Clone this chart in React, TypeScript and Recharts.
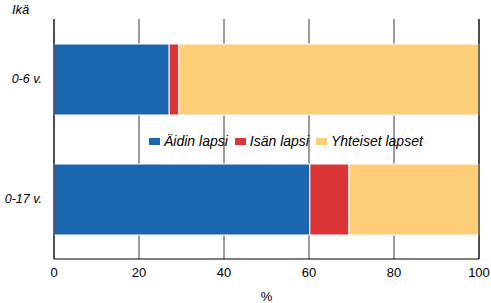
import { BarChart, Bar, XAxis, YAxis, CartesianGrid, Legend, ReferenceLine } from 'recharts';

const categories = ['0-6 v.', '0-17 v.'];
const aidinLapsi = [27.1, 60.2];
const isanLapsi = [2.3, 9.2];
const yhteisetLapset = [70.6, 30.6];
const xTicks = [0, 20, 40, 60, 80, 100];

const seriesInfo = [
  { key: 'aidin', name: 'Äidin lapsi', color: '#1a67b0' },
  { key: 'isan', name: 'Isän lapsi', color: '#dc3535' },
  { key: 'yhteiset', name: 'Yhteiset lapset', color: '#fdce78' },
];

const data = categories.map((c, i) => ({
  name: c,
  aidin: aidinLapsi[i],
  isan: isanLapsi[i],
  yhteiset: yhteisetLapset[i],
}));

const font = '"Liberation Sans", Arial, sans-serif';

function YTick(props: any) {
  const { x, y, payload } = props;
  return (
    <text x={x} y={y} dy={4} textAnchor="end" fontFamily={font} fontSize={12.5} fontStyle="italic" fill="#000">
      {payload.value}
    </text>
  );
}

function LegendBox() {
  return (
    <div style={{ display: 'flex', alignItems: 'center', fontFamily: font, fontSize: 14, fontStyle: 'italic', color: '#000', whiteSpace: 'nowrap' }}>
      {seriesInfo.map((s) => (
        <div key={s.key} style={{ display: 'flex', alignItems: 'center', marginRight: 7 }}>
          <span style={{ display: 'inline-block', width: 11, height: 7, background: s.color, marginRight: 4 }} />
          <span>{s.name}</span>
        </div>
      ))}
    </div>
  );
}

export default function App() {
  return (
    <div style={{ position: 'absolute', left: 0, top: 0, width: 491, height: 303, background: '#fff' }}>
      <div style={{ position: 'absolute', left: 12, top: 2, fontFamily: font, fontSize: 13, fontStyle: 'italic' }}>Ikä</div>
      <BarChart width={491} height={303} data={data} layout="vertical" margin={{ top: 19, right: 12, bottom: 0, left: 0 }} barSize={71}>
        <CartesianGrid horizontal={false} stroke="#3a3a3a" strokeWidth={1} />
        <XAxis
          type="number"
          domain={[0, 100]}
          ticks={xTicks}
          height={44}
          axisLine={{ stroke: '#000' }}
          tickLine={false}
          tickSize={0}
          tickMargin={9}
          tick={{ fontFamily: font, fontSize: 13, fill: '#000' }}
          label={{ value: '%', position: 'insideBottom', offset: 2, fontFamily: font, fontSize: 13, fill: '#000' }}
        />
        <XAxis xAxisId="top" orientation="top" type="number" domain={[0, 100]} height={0} tick={false} tickLine={false} axisLine={{ stroke: '#000' }} />
        <YAxis type="category" dataKey="name" width={54} axisLine={{ stroke: '#000' }} tickLine={false} tickSize={0} tickMargin={12} tick={<YTick />} />
        <Legend verticalAlign="middle" align="center" layout="horizontal" content={<LegendBox />} wrapperStyle={{ position: 'absolute', top: 133, left: 149, width: 320 }} />
        {seriesInfo.map((s) => (
          <Bar key={s.key} dataKey={s.key} name={s.name} stackId="a" fill={s.color} stroke="#fff" strokeWidth={1} isAnimationActive={false} />
        ))}
        <ReferenceLine x={100} stroke="#000" />
      </BarChart>
    </div>
  );
}
